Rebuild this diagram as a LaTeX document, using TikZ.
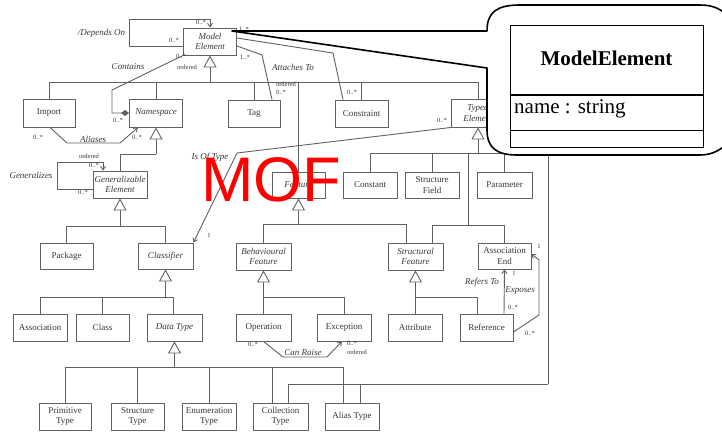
\documentclass[tikz,border=0pt]{standalone}
\usepackage{fontspec}
\setmainfont{Liberation Serif}
\newfontfamily\mofsans{Liberation Sans}
\usetikzlibrary{arrows.meta}
\definecolor{linegray}{gray}{0.38}
\definecolor{textgray}{gray}{0.22}
\begin{document}
\begin{tikzpicture}[x=1pt,y=-1pt,
  cls/.style={draw=linegray, line width=0.9pt, fill=white, minimum width=53pt,
    minimum height=27pt, inner sep=0pt, align=center,
    font=\fontsize{9}{10.5}\selectfont, text=textgray},
  abs/.style={cls, font=\fontsize{9}{10.5}\selectfont\itshape},
  wire/.style={draw=linegray, line width=0.9pt},
  gen/.style={wire, -{Triangle[length=12pt, width=13pt, fill=white]}},
  nav/.style={wire, -{Straight Barb[length=3.5pt, width=5pt]}},
  comp/.style={wire, -{Diamond[length=8pt, width=6pt]}},
  role/.style={font=\fontsize{9}{9}\selectfont\itshape, text=textgray, inner sep=0pt},
  mult/.style={font=\fontsize{6.5}{6.5}\selectfont, text=textgray, inner sep=0pt},
  callout/.style={draw=black, fill=white, line width=1.6pt, line join=round},
]
\useasboundingbox (0,0) rectangle (722,432);
\fill[white] (0,0) rectangle (722,432);
\clip (0,0) rectangle (722,432);

% ---------- classes ----------
\node[abs] (me) at (210,41.5) {Model\\Element};
\node[cls, minimum width=52pt, minimum height=28pt] (import) at (49,113) {Import};
\node[abs, minimum height=28pt] (namespace) at (156,113) {Namespace};
\node[cls, minimum width=52pt] (tag) at (254,113.5) {Tag};
\node[cls] (constraint) at (361.5,113.5) {Constraint};
\node[abs, minimum height=28pt] (typed) at (478,113) {Typed\\Element};
\node[abs, minimum width=54pt] (genel) at (120,184.5) {Generalizable\\Element};
\node[abs, minimum height=26pt] (feature) at (298.5,185) {Feature};
\node[cls, minimum width=54pt, minimum height=26pt] (constant) at (370,185) {Constant};
\node[cls, minimum width=54pt, minimum height=26pt] (structfield) at (432,185) {Structure\\Field};
\node[cls, minimum width=55pt, minimum height=26pt] (parameter) at (504.5,185) {Parameter};
\node[cls, minimum height=26pt] (package) at (66.5,256) {Package};
\node[abs, minimum width=55pt, minimum height=26pt] (classifier) at (165.5,256) {Classifier};
\node[abs, minimum width=55pt] (behav) at (263.5,256.5) {Behavioural\\Feature};
\node[abs, minimum width=55pt] (struct) at (415.5,256.5) {Structural\\Feature};
\node[cls, minimum height=26pt] (assocend) at (504.5,256) {Association\\End};
\node[cls, minimum width=54pt] (association) at (40,327.5) {Association};
\node[cls] (class) at (102.5,327.5) {Class};
\node[abs, minimum width=55pt] (datatype) at (174.5,327.5) {Data Type};
\node[cls, minimum width=55pt] (operation) at (263.5,327.5) {Operation};
\node[cls, minimum width=54pt] (exception) at (344,327.5) {Exception};
\node[cls, minimum width=54pt] (attribute) at (415,327.5) {Attribute};
\node[cls] (reference) at (486.5,327.5) {Reference};
\node[cls, minimum width=52pt] (primitive) at (65,416.5) {Primitive\\Type};
\node[cls] (structtype) at (137.5,416.5) {Structure\\Type};
\node[cls, minimum width=54pt] (enumtype) at (209,416.5) {Enumeration\\Type};
\node[cls, minimum width=55pt] (colltype) at (280.5,416.5) {Collection\\Type};
\node[cls, minimum width=54pt] (aliastype) at (352,416.5) {Alias Type};

% ---------- generalisation trees ----------
\coordinate (meBus) at (210,82);
\draw[wire] (import.north) |- (typed.north |- meBus) -- (typed.north);
\foreach \n in {namespace,tag,feature,constraint}
  \draw[wire] (\n.north) -- (\n.north |- meBus);
\draw[gen] (meBus) -- (me.south);

\coordinate (nsBus) at (156,154);
\draw[wire] (genel.north) |- (nsBus);
\draw[gen] (nsBus) -- (namespace.south);

\coordinate (geBus) at (120,226);
\draw[wire] (package.north) |- (geBus);
\draw[wire] (classifier.north) |- (geBus);
\draw[gen] (geBus) -- (genel.south);

\coordinate (clBus) at (165.5,297);
\foreach \n in {association,class}
  \draw[wire] (\n.north) |- (clBus);
\draw[wire] ([xshift=-1.5pt]datatype.north) |- (clBus);
\draw[gen] (clBus) -- (classifier.south);

\coordinate (dtBus) at (174.5,367);
\foreach \n in {primitive,structtype,enumtype}
  \draw[wire] (\n.north) |- (dtBus);
\draw[wire] ([xshift=-8.5pt]colltype.north) |- (dtBus);
\draw[wire] ([xshift=-9pt]aliastype.north) |- (dtBus);
\draw[gen] (dtBus) -- (datatype.south);

\coordinate (ftBus) at (298.5,224);
\draw[wire] (behav.north) |- (ftBus);
\draw[wire] ([xshift=-9.5pt]struct.north) |- (ftBus);
\draw[gen] (ftBus) -- (feature.south);

\coordinate (teBus) at (478,153);
\coordinate (teBranch) at (468,153);
\coordinate (teBus2) at (468,225);
\foreach \n in {constant,structfield,parameter}
  \draw[wire] (\n.north) |- (teBus);
\draw[wire] (teBranch) -- (teBus2);
\draw[wire] ([xshift=17pt]struct.north) |- (teBus2);
\draw[wire] (assocend.north) |- (teBus2);
\draw[gen] (teBus) -- (typed.south);

\coordinate (bfBus) at (263.5,297);
\draw[wire] (operation.north) -- (bfBus);
\draw[wire] (exception.north) |- (bfBus);
\draw[gen] (bfBus) -- (behav.south);

\coordinate (sfBus) at (415.5,297);
\draw[wire] (attribute.north) |- (sfBus);
\draw[wire] ([xshift=-9.5pt]reference.north) |- (sfBus);
\draw[gen] (sfBus) -- (struct.south);

\coordinate (teRight) at (548,150);
\coordinate (dtCorner) at (548,384);
\draw[wire] (teRight) -- (dtCorner);
\draw[wire] ([xshift=7.5pt]colltype.north) |- (dtCorner);
\draw[wire] ([xshift=8pt]aliastype.north) |- (dtCorner);

% ---------- associations ----------
% Depends On
\coordinate (depA) at (129,19);
\draw[nav] ([yshift=-4.5pt]me.west) -| (depA) -| (me.north);
\node[role] (depL) at (101.5,33) {/Depends On};
\node[mult] (depM1) at (201,22.5) {0..*};
\node[mult] (depM2) at (174,40) {0..*};

% Contains
\coordinate (conA) at (112,90);
\draw[comp] (me.south west) -- (conA) |- (namespace.west);
\node[role] (conL) at (128,67) {Contains};
\node[mult] (conM1) at (181,56.5) {0..*};
\node[mult] (conM2) at (187,67) {ordered};
\node[mult] (conM3) at (118,120) {0..*};

% Aliases
\coordinate (alA) at (67,143);
\coordinate (alB) at (120,143);
\draw[nav] ([xshift=1pt]import.south) -- (alA) -- (alB) -- ([xshift=-18pt]namespace.south);
\node[role] (alL) at (93,139) {Aliases};
\node[mult] (alM1) at (38,137) {0..*};
\node[mult] (alM2) at (137,137) {0..*};

% Attaches To
\coordinate (atA) at (262,55);
\draw[wire] ([yshift=-4.5pt]me.east) -- (atA) -- ([xshift=18pt]tag.north);
\node[role] (atL) at (293,67) {Attaches To};
\node[mult] (atM1) at (245,57) {1..*};
\node[mult] (atM2) at (286,84) {ordered};
\node[mult] (atM3) at (281,92) {0..*};

% Constrains
\coordinate (csA) at (333,53);
\draw[wire] ([yshift=3.5pt]me.east) -- (csA) -- ([xshift=-18.5pt]constraint.north);
\node[role] (csL) at (327,41) {Constrains};
\node[mult] (csM1) at (244,29) {1..*};
\node[mult] (csM2) at (352,92) {0..*};

% Generalizes
\coordinate (genA) at (57,162);
\draw[nav] ([yshift=-4.5pt]genel.west) -| (genA) -| ([xshift=-17pt]genel.north);
\node[role] (genL) at (31,175) {Generalizes};
\node[mult] (genM1) at (89,156) {ordered};
\node[mult] (genM2) at (94,165) {0..*};
\node[mult] (genM3) at (83,192) {0..*};

% Is Of Type
\coordinate (iotA) at (237,153);
\draw[nav] (typed.south west) -- (iotA) -- (classifier.north east);
\node[role] (iotL) at (210,157) {Is Of Type};
\node[mult] (iotM1) at (442,120) {0..*};
\node[mult] (iotM2) at (209,235) {1};

% Can Raise
\coordinate (crA) at (283,357);
\coordinate (crB) at (327,357);
\draw[nav] (operation.south) -- (crA) -- (crB) -- ([xshift=-2pt]exception.south);
\node[role] (crL) at (303,353) {Can Raise};
\node[mult] (crM1) at (253,344) {0..*};
\node[mult] (crM2) at (352,343) {0..*};
\node[mult] (crM3) at (357,352) {ordered};

% Refers To
\draw[nav] ([xshift=17.5pt]reference.north) -- (assocend.south);
\node[role] (rtL) at (482,282) {Refers To};
\node[mult] (rtM1) at (514,273) {1};
\node[mult] (rtM2) at (513,307) {0..*};

% Exposes
\coordinate (exA) at (539,315);
\coordinate (exB) at (539,260);
\draw[nav] ([yshift=-4.5pt]reference.east) -- (exA) -- (exB) -- ([yshift=2pt]assocend.east);
\node[role] (exL) at (520,291) {Exposes};
\node[mult] (exM1) at (539,246) {1};
\node[mult] (exM2) at (530,333) {0..*};

% ---------- title ----------
\node[text=red, inner sep=0pt, font=\fontsize{63}{63}\mofsans] (mof) at (271,180) {MOF};

% ---------- callout with the ModelElement class ----------
\draw[callout] (232,31) -- (487,31) .. controls (487,12) and (497,5) .. (520,5)
  -- (700,5) .. controls (715,5) and (722,10) .. (730,18) -- (730,140)
  .. controls (722,150) and (712,155) .. (700,155) -- (517,155)
  .. controls (497,155) and (487,148) .. (487,130) -- (487,68) -- cycle;
\draw[line width=1pt] (510,25) rectangle (703,147);
\draw[line width=2pt] (510,95) -- (703,95);
\draw[line width=1pt] (510,130) -- (703,130);
\node[font=\fontsize{21}{21}\selectfont\bfseries, inner sep=0pt] (mename) at (606.5,58.5) {ModelElement};
\node[font=\fontsize{21}{21}\selectfont, inner sep=0pt, anchor=base west] (meattr) at (514,113) {name : string};
\end{tikzpicture}
\end{document}
